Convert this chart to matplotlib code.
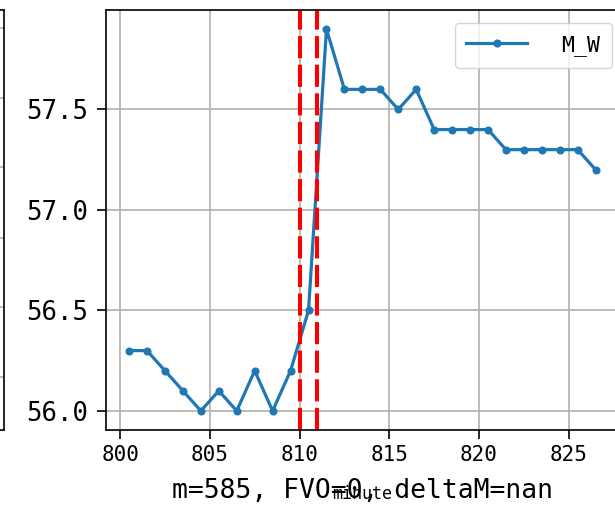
import numpy as np
import matplotlib
matplotlib.use("Agg")
import matplotlib.pyplot as plt

plt.rcParams['font.family'] = ['DejaVu Sans Mono']

# minute (bar mid points) and M_W values
minute = [800.5, 801.5, 802.5, 803.5, 804.5, 805.5, 806.5, 807.5, 808.5, 809.5,
          810.5, 811.5, 812.5, 813.5, 814.5, 815.5, 816.5, 817.5, 818.5, 819.5,
          820.5, 821.5, 822.5, 823.5, 824.5, 825.5, 826.5]
m_w = [56.3, 56.3, 56.2, 56.1, 56.0, 56.1, 56.0, 56.2, 56.0, 56.2,
       56.5, 57.9, 57.6, 57.6, 57.6, 57.5, 57.6, 57.4, 57.4, 57.4,
       57.4, 57.3, 57.3, 57.3, 57.3, 57.3, 57.2]
vlines = [810, 811]
titel = "m=585, FVO=0, deltaM=nan"

fig = plt.figure(figsize=(6.15, 5.07), dpi=100)

# kawalek sasiedniego wykresu po lewej
ax0 = fig.add_axes([-0.5, 0.1519, 0.5057, 0.8284])
ax0.set_ylim(0, 1)
ax0.set_yticks([0.126, 0.292, 0.458, 0.625, 0.791, 0.957])
ax0.set_xticks([])
ax0.set_yticklabels([])
ax0.grid(True, color='#b0b0b0', lw=1.2)
ax0.tick_params(axis='y', length=0)
for s in ax0.spines.values():
    s.set_linewidth(1.2)

ax = fig.add_axes([0.1719, 0.1519, 0.8346, 0.8284])
ax.plot(minute, m_w, '-o', color='#1f77b4', lw=2.3, ms=4.8, label='M_W')
for v in vlines:
    ax.axvline(v, color='red', ls='--', lw=2.9, dashes=(5.5, 1.6))
ax.grid(True, color='#b0b0b0', lw=1.2)
ax.set_yticks([56.0, 56.5, 57.0, 57.5])
ax.set_xticks([800, 805, 810, 815, 820, 825])
ax.tick_params(axis='y', labelsize=18.5, length=6.5, width=1.2, pad=6)
ax.tick_params(axis='x', labelsize=15, length=6.5, width=1.2, pad=4)
for s in ax.spines.values():
    s.set_linewidth(1.2)
ax.set_xlabel('minute', fontsize=12)
ax.xaxis.set_label_coords(0.5, -0.13)
ax.text(0.5, -0.146, titel, transform=ax.transAxes, ha='center', va='center',
        fontsize=19)
ax.legend(loc='upper right', bbox_to_anchor=(0.9864, 0.969), borderaxespad=0,
          fontsize=15.5, handlelength=2.8, handletextpad=1.6, borderpad=0.55)

plt.savefig('out.png', dpi=100)
